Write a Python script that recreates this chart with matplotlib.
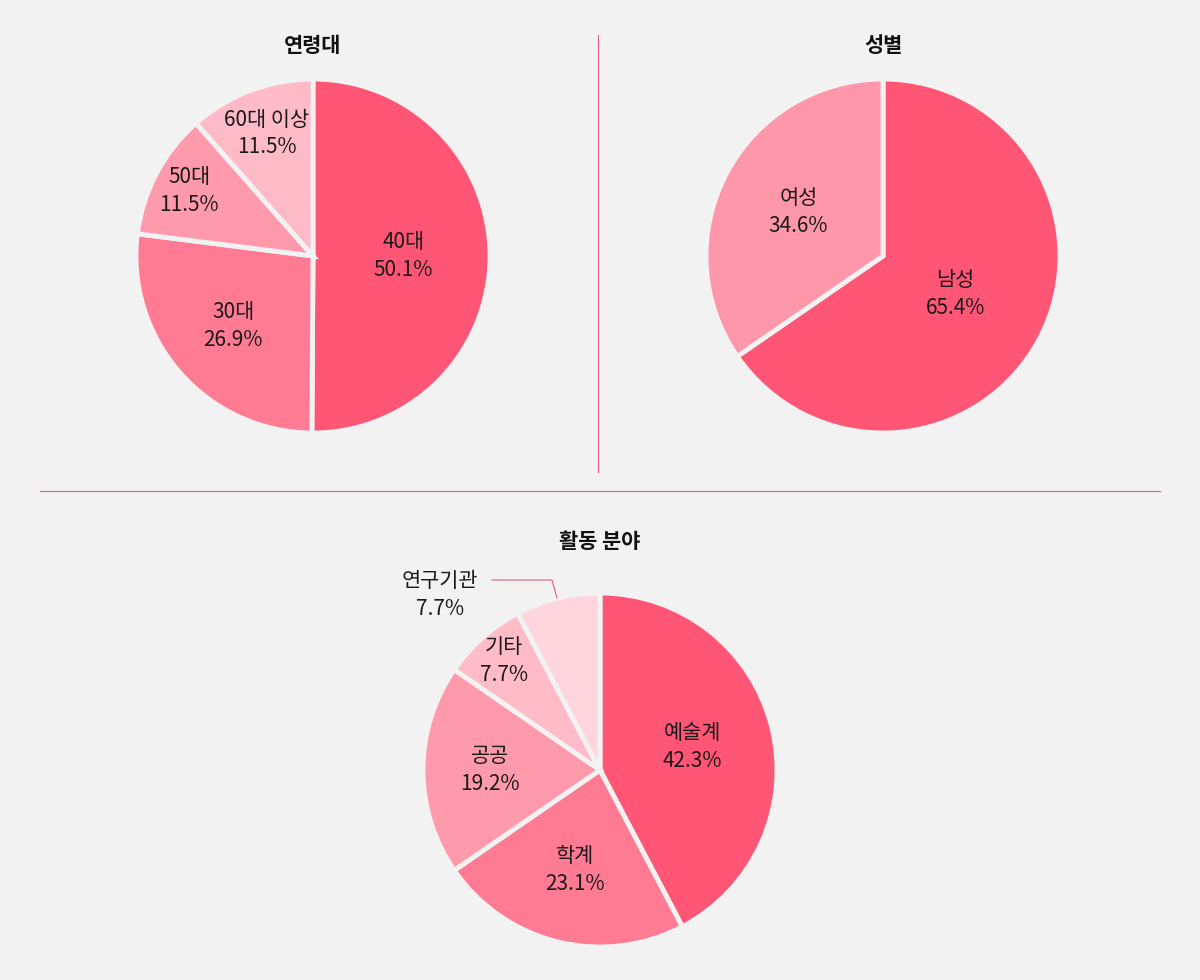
import numpy as np
import matplotlib
matplotlib.use("Agg")
import matplotlib.pyplot as plt

plt.rcParams["font.family"] = "Noto Sans CJK KR"

age_labels = ["40대", "30대", "50대", "60대 이상"]
age_values = [50.1, 26.9, 11.5, 11.5]
gender_labels = ["남성", "여성"]
gender_values = [65.4, 34.6]
field_labels = ["예술계", "학계", "공공", "기타", "연구기관"]
field_values = [42.3, 23.1, 19.2, 7.7, 7.7]

BG = "#f2f2f2"
W, H = 1200, 980
fig = plt.figure(figsize=(12, 9.8), dpi=100, facecolor=BG)

def axes_at(cx, cy, r):
    ax = fig.add_axes([(cx - r) / W, 1 - (cy + r) / H, 2 * r / W, 2 * r / H])
    return ax

def draw(ax, labels, values, colors, dists, skip=()):
    wedges, _ = ax.pie(values, colors=colors, startangle=90, counterclock=False,
                       radius=1, wedgeprops=dict(edgecolor=BG, linewidth=3.5))
    ax.set_xlim(-1, 1); ax.set_ylim(-1, 1); ax.axis("off")
    for w, lab, v, d in zip(wedges, labels, values, dists):
        if lab in skip:
            continue
        a = np.deg2rad((w.theta1 + w.theta2) / 2)
        ax.text(d * np.cos(a), d * np.sin(a), f"{lab}\n{v}%", ha="center", va="center",
                fontsize=15, fontweight="medium", color="#1a1a1a", linespacing=1.35)
    return wedges

ax1 = axes_at(313, 256, 177)
draw(ax1, age_labels, age_values, ["#ff5675", "#ff7b93", "#ff9aad", "#ffbac7"], [0.51, 0.6, 0.79, 0.74])
ax2 = axes_at(883, 256, 177)
draw(ax2, gender_labels, gender_values, ["#ff5675", "#ff97aa"], [0.46, 0.54])
ax3 = axes_at(600, 770, 177)
draw(ax3, field_labels, field_values, ["#ff5675", "#ff7b93", "#ff9aad", "#ffbcc8", "#ffd6de"],
     [0.54, 0.58, 0.62, 0.82, 0.8], skip=("연구기관",))

fig.text(313 / W, 1 - 46 / H, "연령대", ha="center", va="center", fontsize=15, fontweight="bold", color="#111")
fig.text(883 / W, 1 - 46 / H, "성별", ha="center", va="center", fontsize=15, fontweight="bold", color="#111")
fig.text(600 / W, 1 - 542 / H, "활동 분야", ha="center", va="center", fontsize=15, fontweight="bold", color="#111")
fig.text(440 / W, 1 - 595 / H, f"{field_labels[4]}\n{field_values[4]}%", ha="center", va="center",
         fontsize=15, fontweight="medium", color="#1a1a1a", linespacing=1.35)

line_c = "#e0607a"
fig.add_artist(plt.Line2D([598 / W, 598 / W], [1 - 35 / H, 1 - 472 / H], color=line_c, lw=0.8))
fig.add_artist(plt.Line2D([40 / W, 1160 / W], [1 - 491 / H, 1 - 491 / H], color=line_c, lw=0.8))
fig.add_artist(plt.Line2D([492 / W, 552 / W, 557 / W], [1 - 580 / H, 1 - 580 / H, 1 - 598 / H], color=line_c, lw=0.8))

fig.savefig("out.png", dpi=100, facecolor=BG)
